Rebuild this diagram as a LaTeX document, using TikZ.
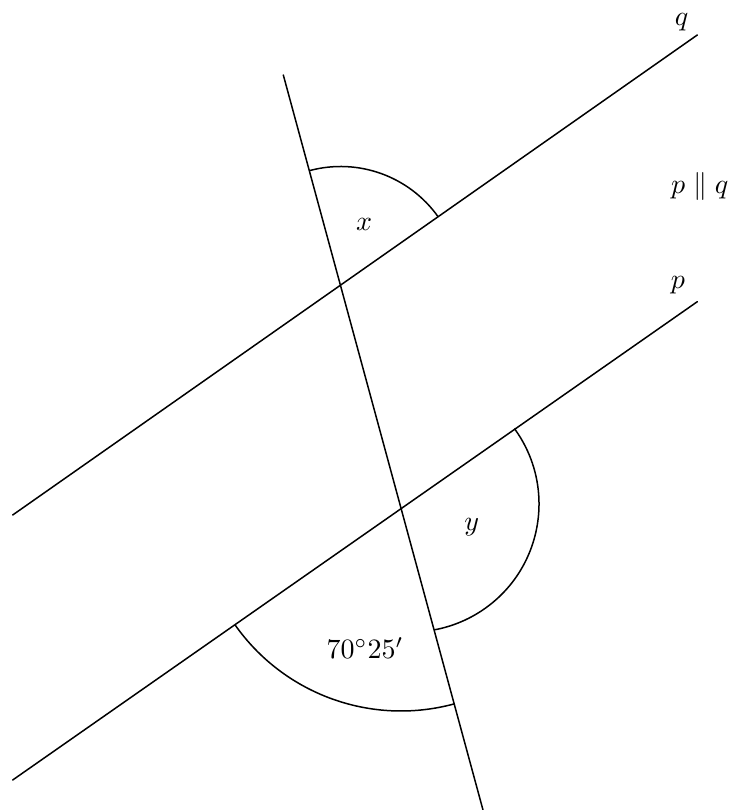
\documentclass[tikz,border=0pt]{standalone}
\begin{document}
\begin{tikzpicture}[x=1pt,y=1pt,
  geoline/.style={line width=1.5pt, line cap=round},
  anglearc/.style={line width=1.5pt},
  lbl/.style={anchor=base, inner sep=0pt, scale=2.8}]
\useasboundingbox (0,0) rectangle (734,810);
% key points (y measured upwards)
\coordinate (I1) at (340.7,524);
\coordinate (I2) at (401,302);
\coordinate (qL) at (12.7,295);
\coordinate (qR) at (697.3,775);
\coordinate (pL) at (12.7,30);
\coordinate (pR) at (697.3,508.3);
\coordinate (tT) at (283.3,735);
\coordinate (tB) at (483,0);
\coordinate (Cy) at (411,306);
% lines
\draw[geoline] (qL) -- (qR);
\draw[geoline] (pL) -- (pR);
\draw[geoline] (tT) -- (tB);
% angle arcs
\draw[anglearc] ([shift={(35.2:119.5)}]I1) arc[start angle=35.2, end angle=105.2, radius=119.5];
\draw[anglearc] ([shift={(36.1:128)}]Cy) arc[start angle=36.1, end angle=-79.6, radius=128];
\draw[anglearc] ([shift={(215.2:203)}]I2) arc[start angle=215.2, end angle=285.2, radius=203];
% labels
\node[lbl] (lx) at (364,579.3) {$x$};
\node[lbl] (ly) at (471.7,279) {$y$};
\node[lbl] (la) at (365,151.7) {$70^\circ25'$};
\node[lbl] (lq) at (681.7,784.4) {$q$};
\node[lbl] (lp) at (678,521) {$p$};
\node[lbl] (lpq) at (699.7,616.3) {$p\parallel q$};
\end{tikzpicture}
\end{document}
